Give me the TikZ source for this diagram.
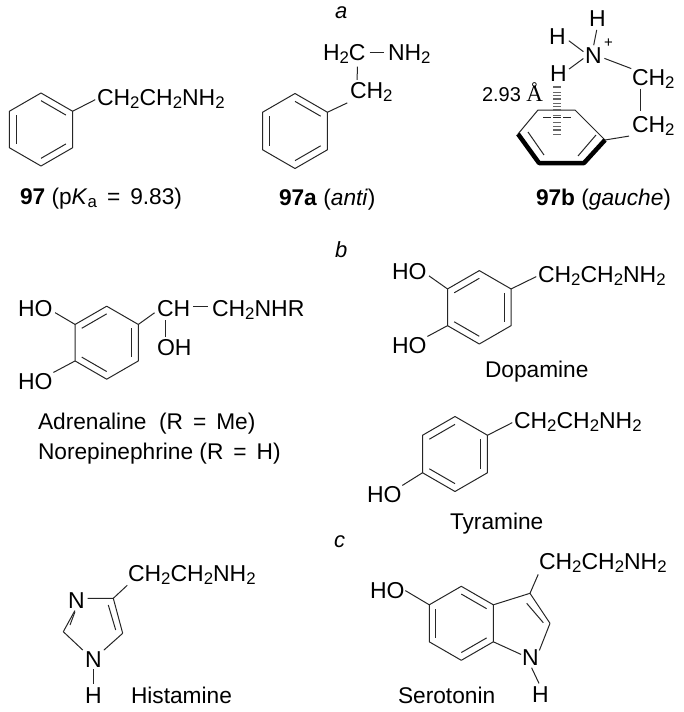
\documentclass[tikz,border=0pt]{standalone}
\usepackage{fontspec}
\setmainfont{Liberation Sans}
\newfontfamily\serifA{Liberation Serif}
\usetikzlibrary{calc}

\newcommand{\subs}[1]{\raisebox{-3.6pt}{\fontsize{16.8}{17}\selectfont #1}}
\newcommand{\ethylamine}{CH\subs{2}CH\subs{2}NH\subs{2}}
\newcommand{\equ}{\hspace{10pt}=\hspace{10pt}}

% Anello a sei lati: vertici <nome>1...<nome>6
\newcommand{\hexring}[4]{%
    \coordinate (#1c) at (#2,#3);
    \foreach \i/\a in {1/-90,2/-30,3/30,4/90,5/150,6/210} {
        \coordinate (#1\i) at ($(#2,#3)+(\a:#4)$);
    }
    \draw[bond] (#11) -- (#12) -- (#13) -- (#14) -- (#15) -- (#16) -- cycle;
}
% Secondo tratto di un doppio legame, verso il centro #3
\newcommand{\inner}[3]{\draw[bond] ($(#3)!.79!(#1)$) -- ($(#3)!.79!(#2)$);}

\begin{document}
\begin{tikzpicture}[x=1pt,y=-1pt,
    bond/.style={line width=1pt,black!85,line join=round},
    atom/.style={anchor=base west,inner sep=0pt,outer sep=0pt,font=\fontsize{23}{26}\selectfont},
    caption/.style={atom,font=\fontsize{22.7}{26}\selectfont},
    part/.style={atom,font=\fontsize{22}{26}\selectfont\itshape},
    hash/.style={line width=1.5pt,black!60}]

    \useasboundingbox (0,0) rectangle (684,712);

    % Lettere delle parti
    \node[part] (parta) at (335,19) {a};
    \node[part] (partb) at (335,257) {b};
    \node[part] (partc) at (334,547) {c};

    % 97
    \hexring{A}{41}{129.5}{36.5}
    \inner{A1}{A2}{Ac} \inner{A3}{A4}{Ac} \inner{A5}{A6}{Ac}
    \node[atom] (chainA) at (97,105) {\ethylamine};
    \draw[bond,shorten >=2pt] (A2) -- (chainA.west);
    \node[caption] (capA) at (20,204) {\textbf{97} (p\textit{K}\subs{a}\equ{}9.83)};

    % 97a (anti)
    \hexring{B}{295}{131}{37.5}
    \inner{B1}{B2}{Bc} \inner{B3}{B4}{Bc} \inner{B5}{B6}{Bc}
    \node[atom] (hcB) at (323,60) {H\subs{2}C};
    \node[atom] (nhB) at (388,60) {NH\subs{2}};
    \node[atom] (chB) at (350,98) {CH\subs{2}};
    \draw[bond,shorten >=3pt] (B2) -- (chB.south west);
    \draw[bond,shorten <=3pt,shorten >=2pt] ([xshift=-8pt]hcB.south east) -- ([xshift=7pt]chB.north west);
    \draw[bond,shorten <=4pt,shorten >=4pt] (hcB.east |- 0,52) -- (nhB.west |- 0,52);
    \node[caption] (capB) at (279,205) {\textbf{97a} (\textit{anti})};

    % 97b (gauche)
    \coordinate (C1) at (538,110);
    \coordinate (C2) at (575,110);
    \coordinate (C3) at (605,140);
    \coordinate (C4) at (584,163);
    \coordinate (C5) at (539,163);
    \coordinate (C6) at (518,134);
    \draw[bond] (C6) -- (C1) -- (C2) -- (C3);
    \draw[line width=4.5pt,line join=round] (C3) -- (C4) -- (C5) -- (C6);
    \coordinate (C7) at (528,132);
    \coordinate (C8) at (544,155);
    \coordinate (C9) at (578,156);
    \coordinate (C10) at (596,135);
    \draw[bond] (C7) -- (C8);
    \draw[bond] (C9) -- (C10);
    \node[atom] (hTop) at (589,27) {H};
    \node[atom] (hLeft) at (549,44) {H};
    \node[atom] (nC) at (585,63) {N};
    \node[atom,font=\fontsize{15}{16}\selectfont] (plusC) at (604,47) {+};
    \node[atom] (hMid) at (550,81) {H};
    \node[atom] (chUp) at (632,85) {CH\subs{2}};
    \node[atom] (chLow) at (632,132) {CH\subs{2}};
    \node[atom,font=\fontsize{20}{24}\selectfont] (dist) at (482,101) {2.93 {\fontsize{23}{24}\selectfont\serifA Å}};
    \draw[bond,shorten <=3pt,shorten >=2pt] (hTop.south) -- (nC.north);
    \draw[bond,shorten <=4pt,shorten >=2pt] (hLeft.-15) -- (nC.165);
    \draw[bond,shorten <=3pt,shorten >=2pt] (hMid.15) -- (nC.-165);
    \draw[bond,shorten <=3pt,shorten >=1pt] (nC.-15) -- (chUp.155);
    \draw[bond,shorten >=5pt] ([xshift=8pt]chUp.south west) -- ([xshift=8pt]chLow.north west);
    \draw[bond,shorten >=3pt] (C3) -- (chLow.south west);
    % Tratteggio verso l'idrogeno
    \foreach \y in {87,92.3,95.7,99,103.3,106.7,110,115.7,122.3,126.7,130,134.3} {
        \draw[hash] (553,\y) -- (561,\y);
    }
    \foreach \xa/\xb in {543/551,553/561,563/571} {
        \draw[bond] (\xa,117) -- (\xb,117);
    }
    \node[caption] (capC) at (536,205) {\textbf{97b} (\textit{gauche})};

    % Adrenalina
    \hexring{D}{106.7}{342.7}{36.5}
    \inner{D6}{D1}{Dc} \inner{D2}{D3}{Dc} \inner{D4}{D5}{Dc}
    \node[atom] (hoDa) at (18,316) {HO};
    \node[atom] (hoDb) at (18,389) {HO};
    \node[atom] (chD) at (157,316) {CH};
    \node[atom] (nhrD) at (212,316) {CH\subs{2}NHR};
    \node[atom] (ohD) at (157,355) {OH};
    \draw[bond,shorten >=3pt] (D6) -- (hoDa.-10);
    \draw[bond,shorten >=1pt] (D5) -- (hoDb.north east);
    \draw[bond,shorten >=3pt] (D2) -- (chD.-170);
    \draw[bond,shorten <=3pt,shorten >=4pt] (chD.east |- 0,306) -- (nhrD.west |- 0,306);
    \draw[bond,shorten <=4pt,shorten >=2pt] ([xshift=8pt]chD.south west) -- ([xshift=8pt]ohD.north west);
    \node[caption] (capDa) at (38,429) {Adrenaline\ \ (R\equ{}Me)};
    \node[caption] (capDb) at (38,459) {Norepinephrine (R\equ{}H)};

    % Dopamina
    \hexring{E}{479.3}{307.3}{36.7}
    \inner{E6}{E1}{Ec} \inner{E2}{E3}{Ec} \inner{E4}{E5}{Ec}
    \node[atom] (hoEa) at (392,279) {HO};
    \node[atom] (hoEb) at (392,353) {HO};
    \node[atom] (chainE) at (538,282) {\ethylamine};
    \draw[bond,shorten >=3pt] (E6) -- (hoEa.-10);
    \draw[bond,shorten >=1pt] (E5) -- (hoEb.north east);
    \draw[bond,shorten >=2pt] (E2) -- (chainE.west);
    \node[caption] (capE) at (485,377) {Dopamine};

    % Tiramina
    \hexring{F}{455}{454}{37.5}
    \inner{F6}{F1}{Fc} \inner{F2}{F3}{Fc} \inner{F4}{F5}{Fc}
    \node[atom] (hoF) at (367,502) {HO};
    \node[atom] (chainF) at (514,428) {\ethylamine};
    \draw[bond,shorten >=1pt] (F5) -- (hoF.north east);
    \draw[bond,shorten >=2pt] (F2) -- (chainF.west);
    \node[caption] (capF) at (450,529) {Tyramine};

    % Istamina
    \coordinate (G4) at (113.3,598.3);
    \coordinate (G5) at (122.7,633.3);
    \coordinate (G2) at (63.3,631.7);
    \node[atom] (nGa) at (68,608) {N};
    \node[atom] (nGb) at (85,667) {N};
    \node[atom] (hG) at (85,703) {H};
    \node[atom] (chainG) at (128,581) {\ethylamine};
    \draw[bond,shorten <=3pt] (nGa.east |- G4) -- (G4) -- (G5);
    \draw[bond,shorten >=3pt] (G5) -- (nGb.40);
    \draw[bond,shorten >=3pt] (G2) -- (nGb.140);
    \draw[bond,shorten >=3pt] (G2) -- (nGa.south);
    \draw[bond] (108.3,605) -- (115.7,630);
    \draw[bond] (75,611.7) -- (70,625);
    \draw[bond,shorten >=1pt] (G4) -- (chainG.south west);
    \draw[bond,shorten <=2pt,shorten >=3pt] (nGb.south) -- (hG.north);
    \node[caption] (capG) at (131,703) {Histamine};

    % Serotonina
    \hexring{H}{461.3}{623.3}{37}
    \inner{H1}{H2}{Hc} \inner{H3}{H4}{Hc} \inner{H5}{H6}{Hc}
    \coordinate (H7) at (530,593.3);
    \coordinate (H8) at (550,623.3);
    \node[atom] (hoH) at (370,598) {HO};
    \node[atom] (chainH) at (539,569) {\ethylamine};
    \node[atom] (nH) at (522,665) {N};
    \node[atom] (hH) at (532,702) {H};
    \draw[bond,shorten >=1pt] (H6) -- (hoH.east);
    \draw[bond] (H2) -- (H7) -- (H8);
    \draw[bond,shorten >=2pt] (H8) -- (nH.30);
    \draw[bond,shorten >=1pt] (H3) -- (nH.165);
    \draw[bond] (526.7,603.3) -- (543.3,622.7);
    \draw[bond,shorten >=2pt] (H7) -- (chainH.south west);
    \draw[bond,shorten <=3pt,shorten >=3pt] (nH.south) -- (hH.north);
    \node[caption] (capH) at (398,703) {Serotonin};

\end{tikzpicture}
\end{document}
